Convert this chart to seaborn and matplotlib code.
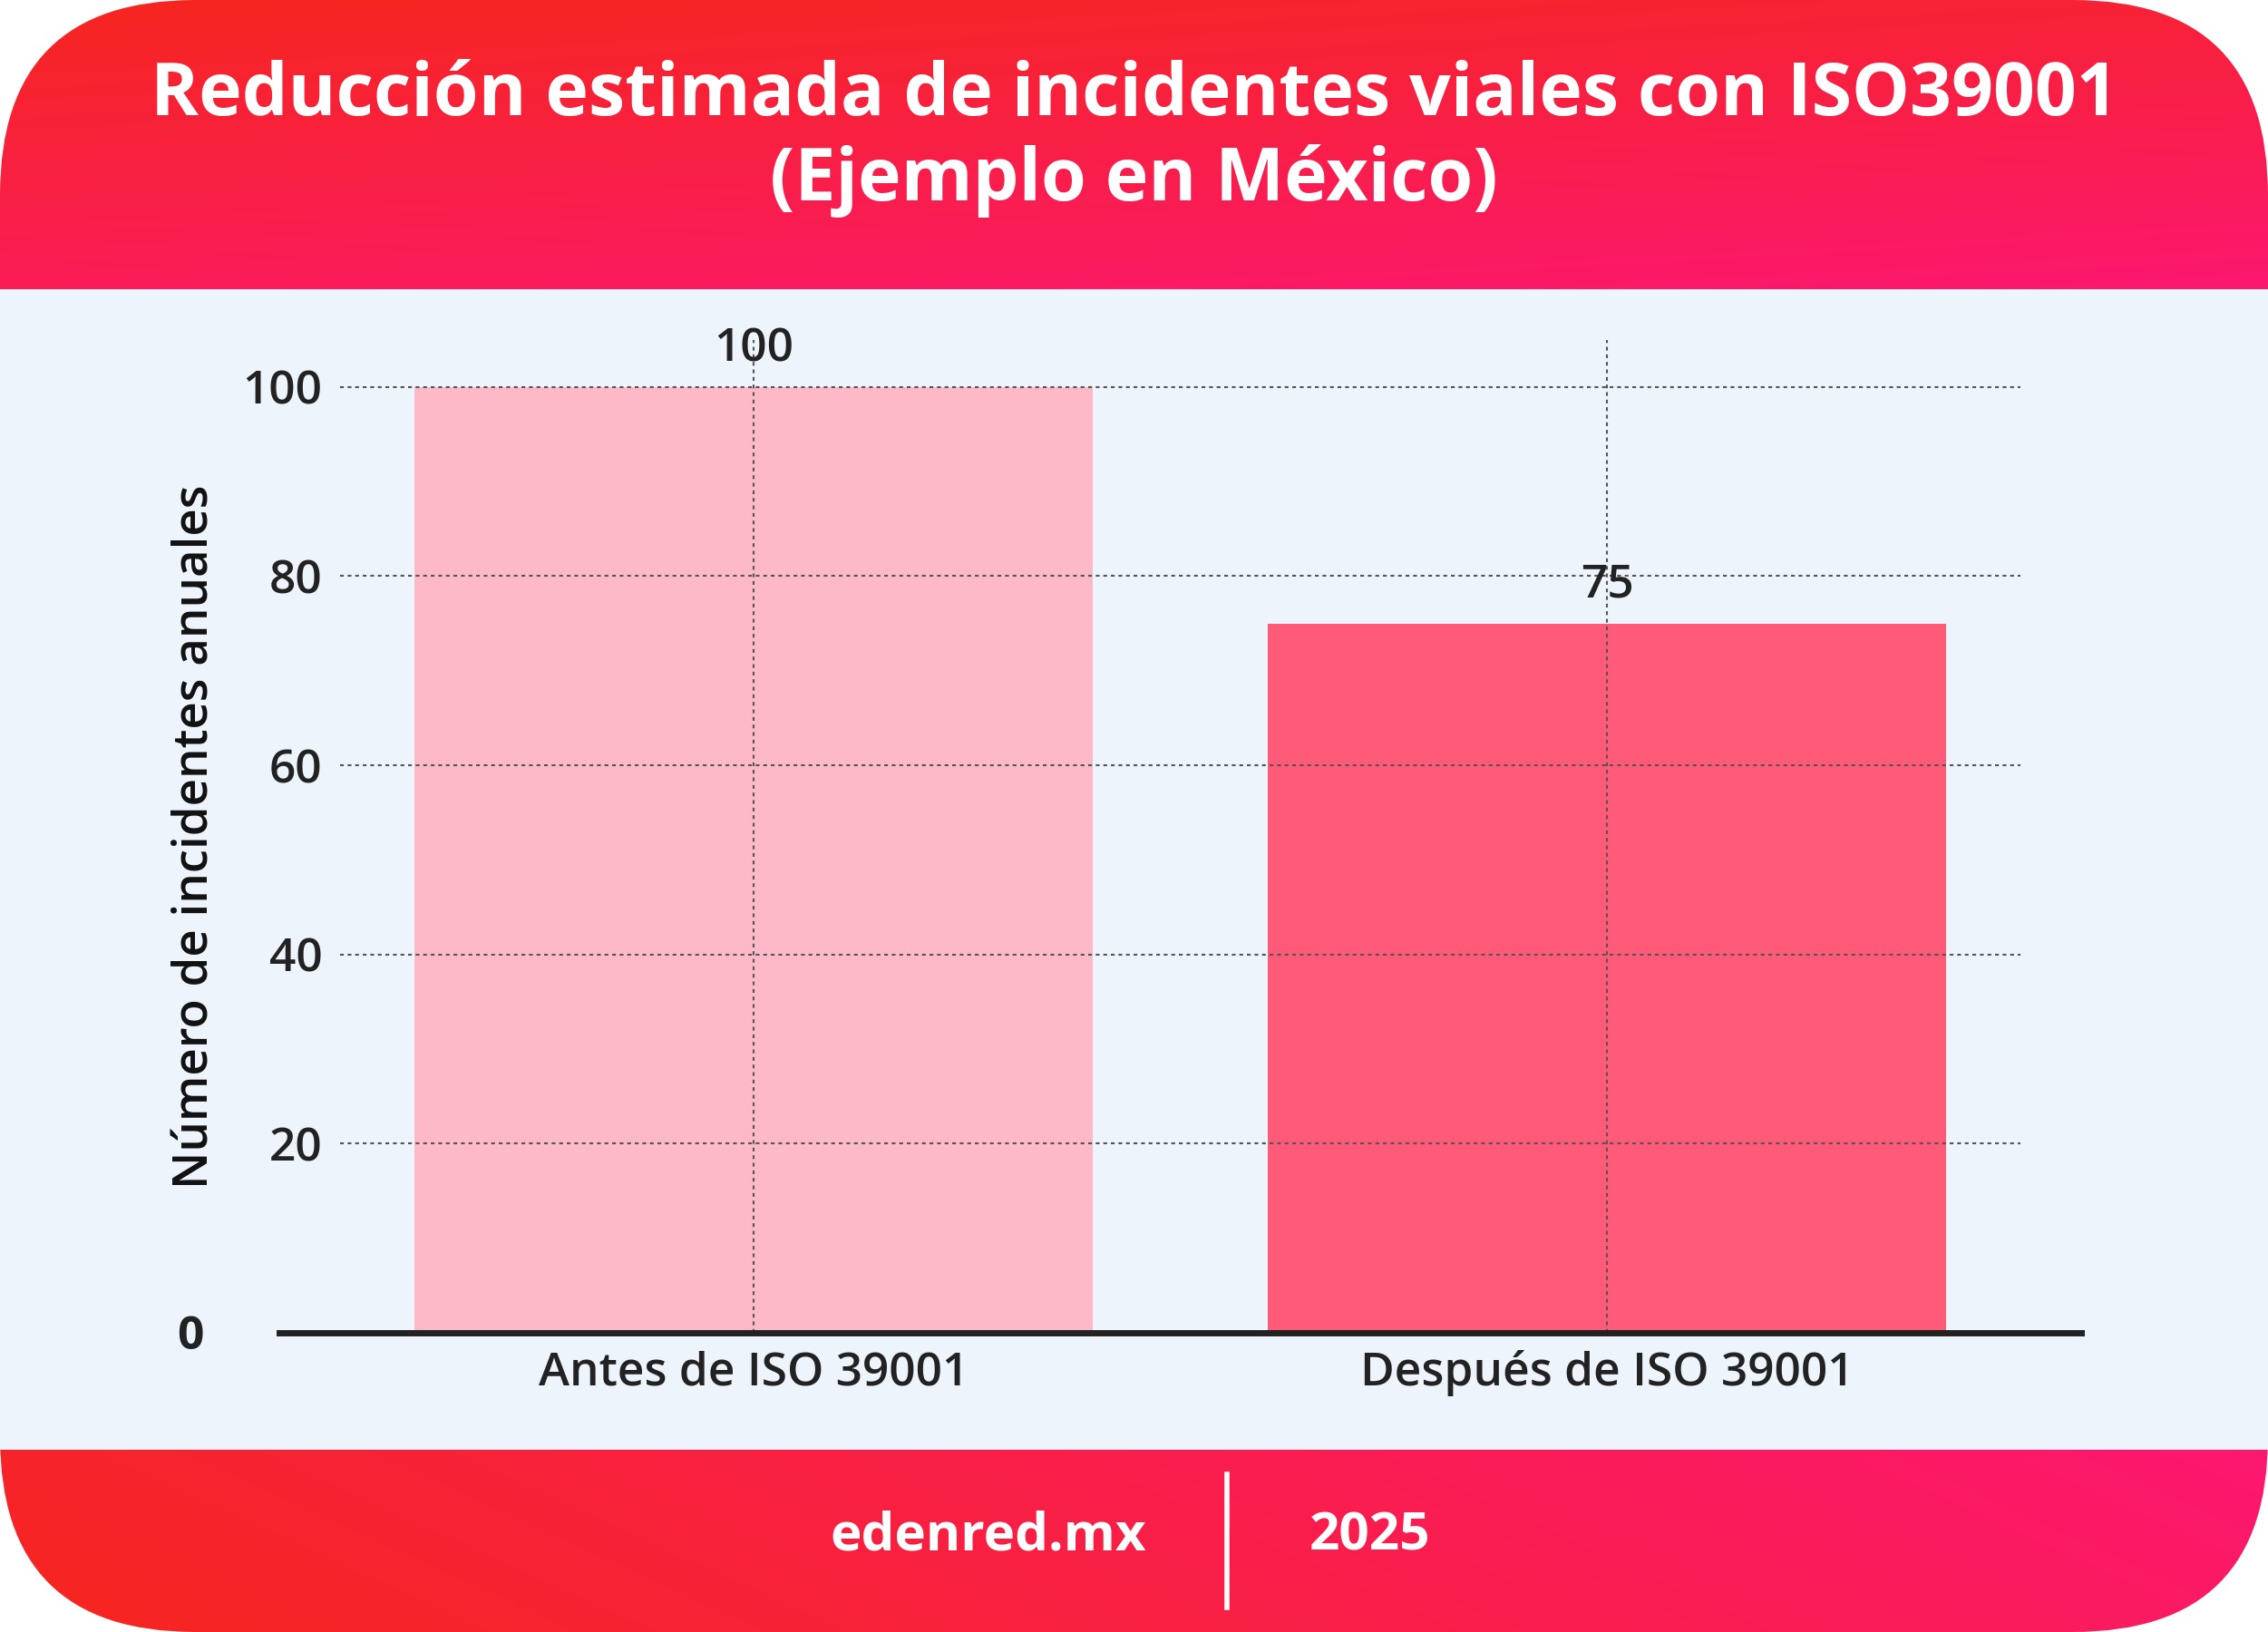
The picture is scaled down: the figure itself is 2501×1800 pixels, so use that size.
import numpy as np
import pandas as pd
import seaborn as sns
import matplotlib.pyplot as plt
from matplotlib.patches import FancyBboxPatch, Rectangle
from matplotlib.colors import LinearSegmentedColormap

categories = ["Antes de ISO 39001", "Después de ISO 39001"]
values = [100, 75]
bar_colors = ["#fdb9c8", "#ff5a77"]
yticks = [0, 20, 40, 60, 80, 100]
title = "Reducción estimada de incidentes viales con ISO39001\n(Ejemplo en México)"
ylabel = "Número de incidentes anuales"

W, H = 1568, 1129
fig = plt.figure(figsize=(25.01, 18), dpi=100)

bg = fig.add_axes([0, 0, 1, 1])
bg.set_xlim(0, W); bg.set_ylim(H, 0); bg.axis("off")
card = FancyBboxPatch((0, 0), W, H, boxstyle="round,pad=0,rounding_size=135",
                      facecolor="none", edgecolor="none", transform=bg.transData)
bg.add_patch(card)
cmap = LinearSegmentedColormap.from_list("g", ["#f6261e", "#fc1870"])
xx, yy = np.meshgrid(np.linspace(0, 1, 300), np.linspace(0, 1, 300))
grad = np.clip(0.3 * xx + 0.7 * yy, 0, 1)
im = bg.imshow(grad, cmap=cmap, extent=[0, W, 200, 0], aspect="auto", zorder=1)
im.set_clip_path(card)
grad2 = np.clip(0.85 * xx + 0.15 * (1 - yy), 0, 1)
im2 = bg.imshow(grad2, cmap=cmap, extent=[0, W, H, 1003], aspect="auto", zorder=1)
im2.set_clip_path(card)
bg.add_patch(Rectangle((0, 200), W, 803, facecolor="#eef4fc", edgecolor="none", zorder=2))
bg.text(W / 2, 96, title, ha="center", va="center", color="white", fontsize=58,
        fontweight="bold", family="Open Sans", linespacing=1.2, zorder=3)
bg.text(683, 1063, "edenred.mx", ha="center", va="center", color="white", fontsize=42,
        fontweight="bold", family="Open Sans", zorder=3)
bg.text(947, 1063, "2025", ha="center", va="center", color="white", fontsize=42,
        fontweight="bold", family="Open Sans", zorder=3)
bg.plot([848, 848], [1020, 1112], color="white", lw=4, zorder=3)

ax = fig.add_axes([235 / W, 1 - 922 / H, (1397 - 235) / W, (922 - 235) / H])
ax.patch.set_alpha(0)
df = pd.DataFrame({"cat": categories, "val": values})
sns.barplot(data=df, x="cat", y="val", hue="cat", palette=bar_colors, width=0.795,
            saturation=1, legend=False, ax=ax, zorder=2)
ax.set_xlim(-0.485, 1.485)
ax.set_ylim(0, 105)
ax.set_yticks(yticks)
ax.set_yticklabels([""] + [str(t) for t in yticks[1:]])
for s in ax.spines.values():
    s.set_visible(False)
ax.grid(True, axis="both", linestyle=(0, (2, 2)), color="#555555", linewidth=1.5, zorder=3)
ax.set_axisbelow(False)
for b in ax.patches:
    b.set_zorder(1)
ax.tick_params(length=0, labelsize=37, colors="#222222", pad=14)
for lab in ax.get_xticklabels() + ax.get_yticklabels():
    lab.set_family("Open Sans"); lab.set_fontweight("semibold")
ax.set_xlabel("")
ax.set_ylabel(ylabel, fontsize=38, family="Open Sans", fontweight="semibold",
              color="#111111", labelpad=18)
ax.axhline(0, xmin=-0.036, xmax=1.036, color="#222222", lw=5, clip_on=False, zorder=4)
ax.text(-0.66, -0.5, "0", ha="center", va="center", fontsize=37, fontweight="bold",
        family="Open Sans", color="#222222", transform=ax.transData)
for i, v in enumerate(values):
    ax.text(i, v + 4, str(v), ha="center", va="center", fontsize=37, fontweight="semibold",
            family="Open Sans", color="#222222")

fig.savefig("out.png", dpi=100)
